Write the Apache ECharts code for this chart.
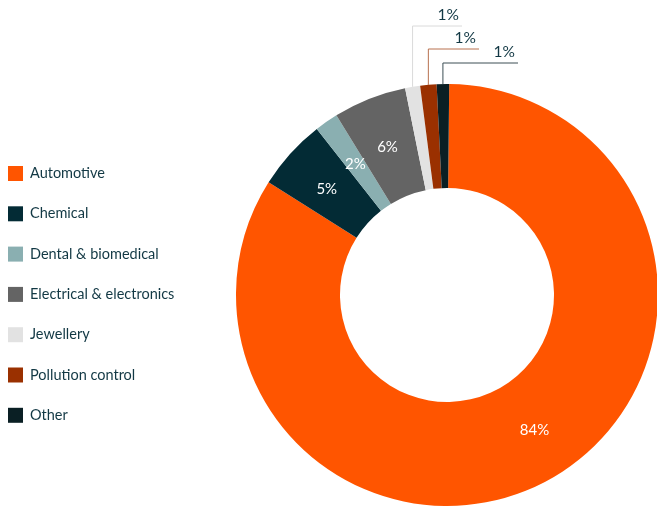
<!DOCTYPE html>
<html>
<head>
<meta charset="utf-8">
<script src="https://cdn.jsdelivr.net/npm/echarts@6/dist/echarts.min.js"></script>
<style>html,body{margin:0;padding:0;background:#fff;}#c{width:657px;height:507px;}</style>
</head>
<body>
<div id="c"></div>
<script>
var categories = ['Automotive','Chemical','Dental & biomedical','Electrical & electronics','Jewellery','Pollution control','Other'];
var values = [83.8, 5.45, 1.8, 5.6, 1.15, 1.25, 0.95];
var colors = ['#FF5500','#032B35','#8AAFB1','#646464','#E2E2E2','#9A3000','#0A1F24'];
var lineColors = [null,null,null,null,'#DADADA','#B8714F','#3C4F55'];
var outsideTop = [null,null,null,null,26,49,63];
var outsideEnd = [null,null,null,null,462,479,518];
var labelShift = [[10,-7],[0,3],[1,2],[0,3],[0,0],[0,0],[0,0]];
var FONT = 'Lato';
var TEXT = '#123844';

var data = categories.map(function(name, i){
  var d = { name: name, value: values[i], itemStyle: { color: colors[i] } };
  if (lineColors[i]) {
    d.label = { position: 'outside', color: TEXT, fontSize: 15.5 };
    d.labelLine = { show: true, length: 10, length2: 10, lineStyle: { color: lineColors[i], width: 1 } };
  }
  return d;
});

var chart = echarts.init(document.getElementById('c'), null, { renderer: 'canvas' });
chart.setOption({
  animation: false,
  legend: {
    orient: 'vertical', left: 8, top: 166, padding: 0,
    itemWidth: 15, itemHeight: 15, itemGap: 25.3,
    icon: 'rect',
    textStyle: { color: TEXT, fontSize: 14.5, fontFamily: FONT, padding: [0,0,0,2] },
    data: categories
  },
  series: [{
    type: 'pie',
    center: [447, 295],
    radius: [107, 211],
    startAngle: 89.4,
    clockwise: true,
    avoidLabelOverlap: false,
    label: {
      position: 'inside', color: '#fff', fontSize: 15, fontFamily: FONT,
      formatter: function(p){ return Math.round(p.value) + '%'; }
    },
    labelLine: { show: false },
    emphasis: { disabled: true },
    labelLayout: function(p){
      var i = p.dataIndex;
      if (outsideTop[i] == null || !p.labelLinePoints) {
        return { dx: labelShift[i][0], dy: labelShift[i][1] };
      }
      var x0 = p.labelLinePoints[0][0], y0 = p.labelLinePoints[0][1];
      var top = outsideTop[i], end = outsideEnd[i];
      return {
        x: end - 3, y: top - 3, align: 'right', verticalAlign: 'bottom',
        labelLinePoints: [[x0, y0], [x0, top], [end, top]]
      };
    },
    data: data
  }]
});
</script>
</body>
</html>
